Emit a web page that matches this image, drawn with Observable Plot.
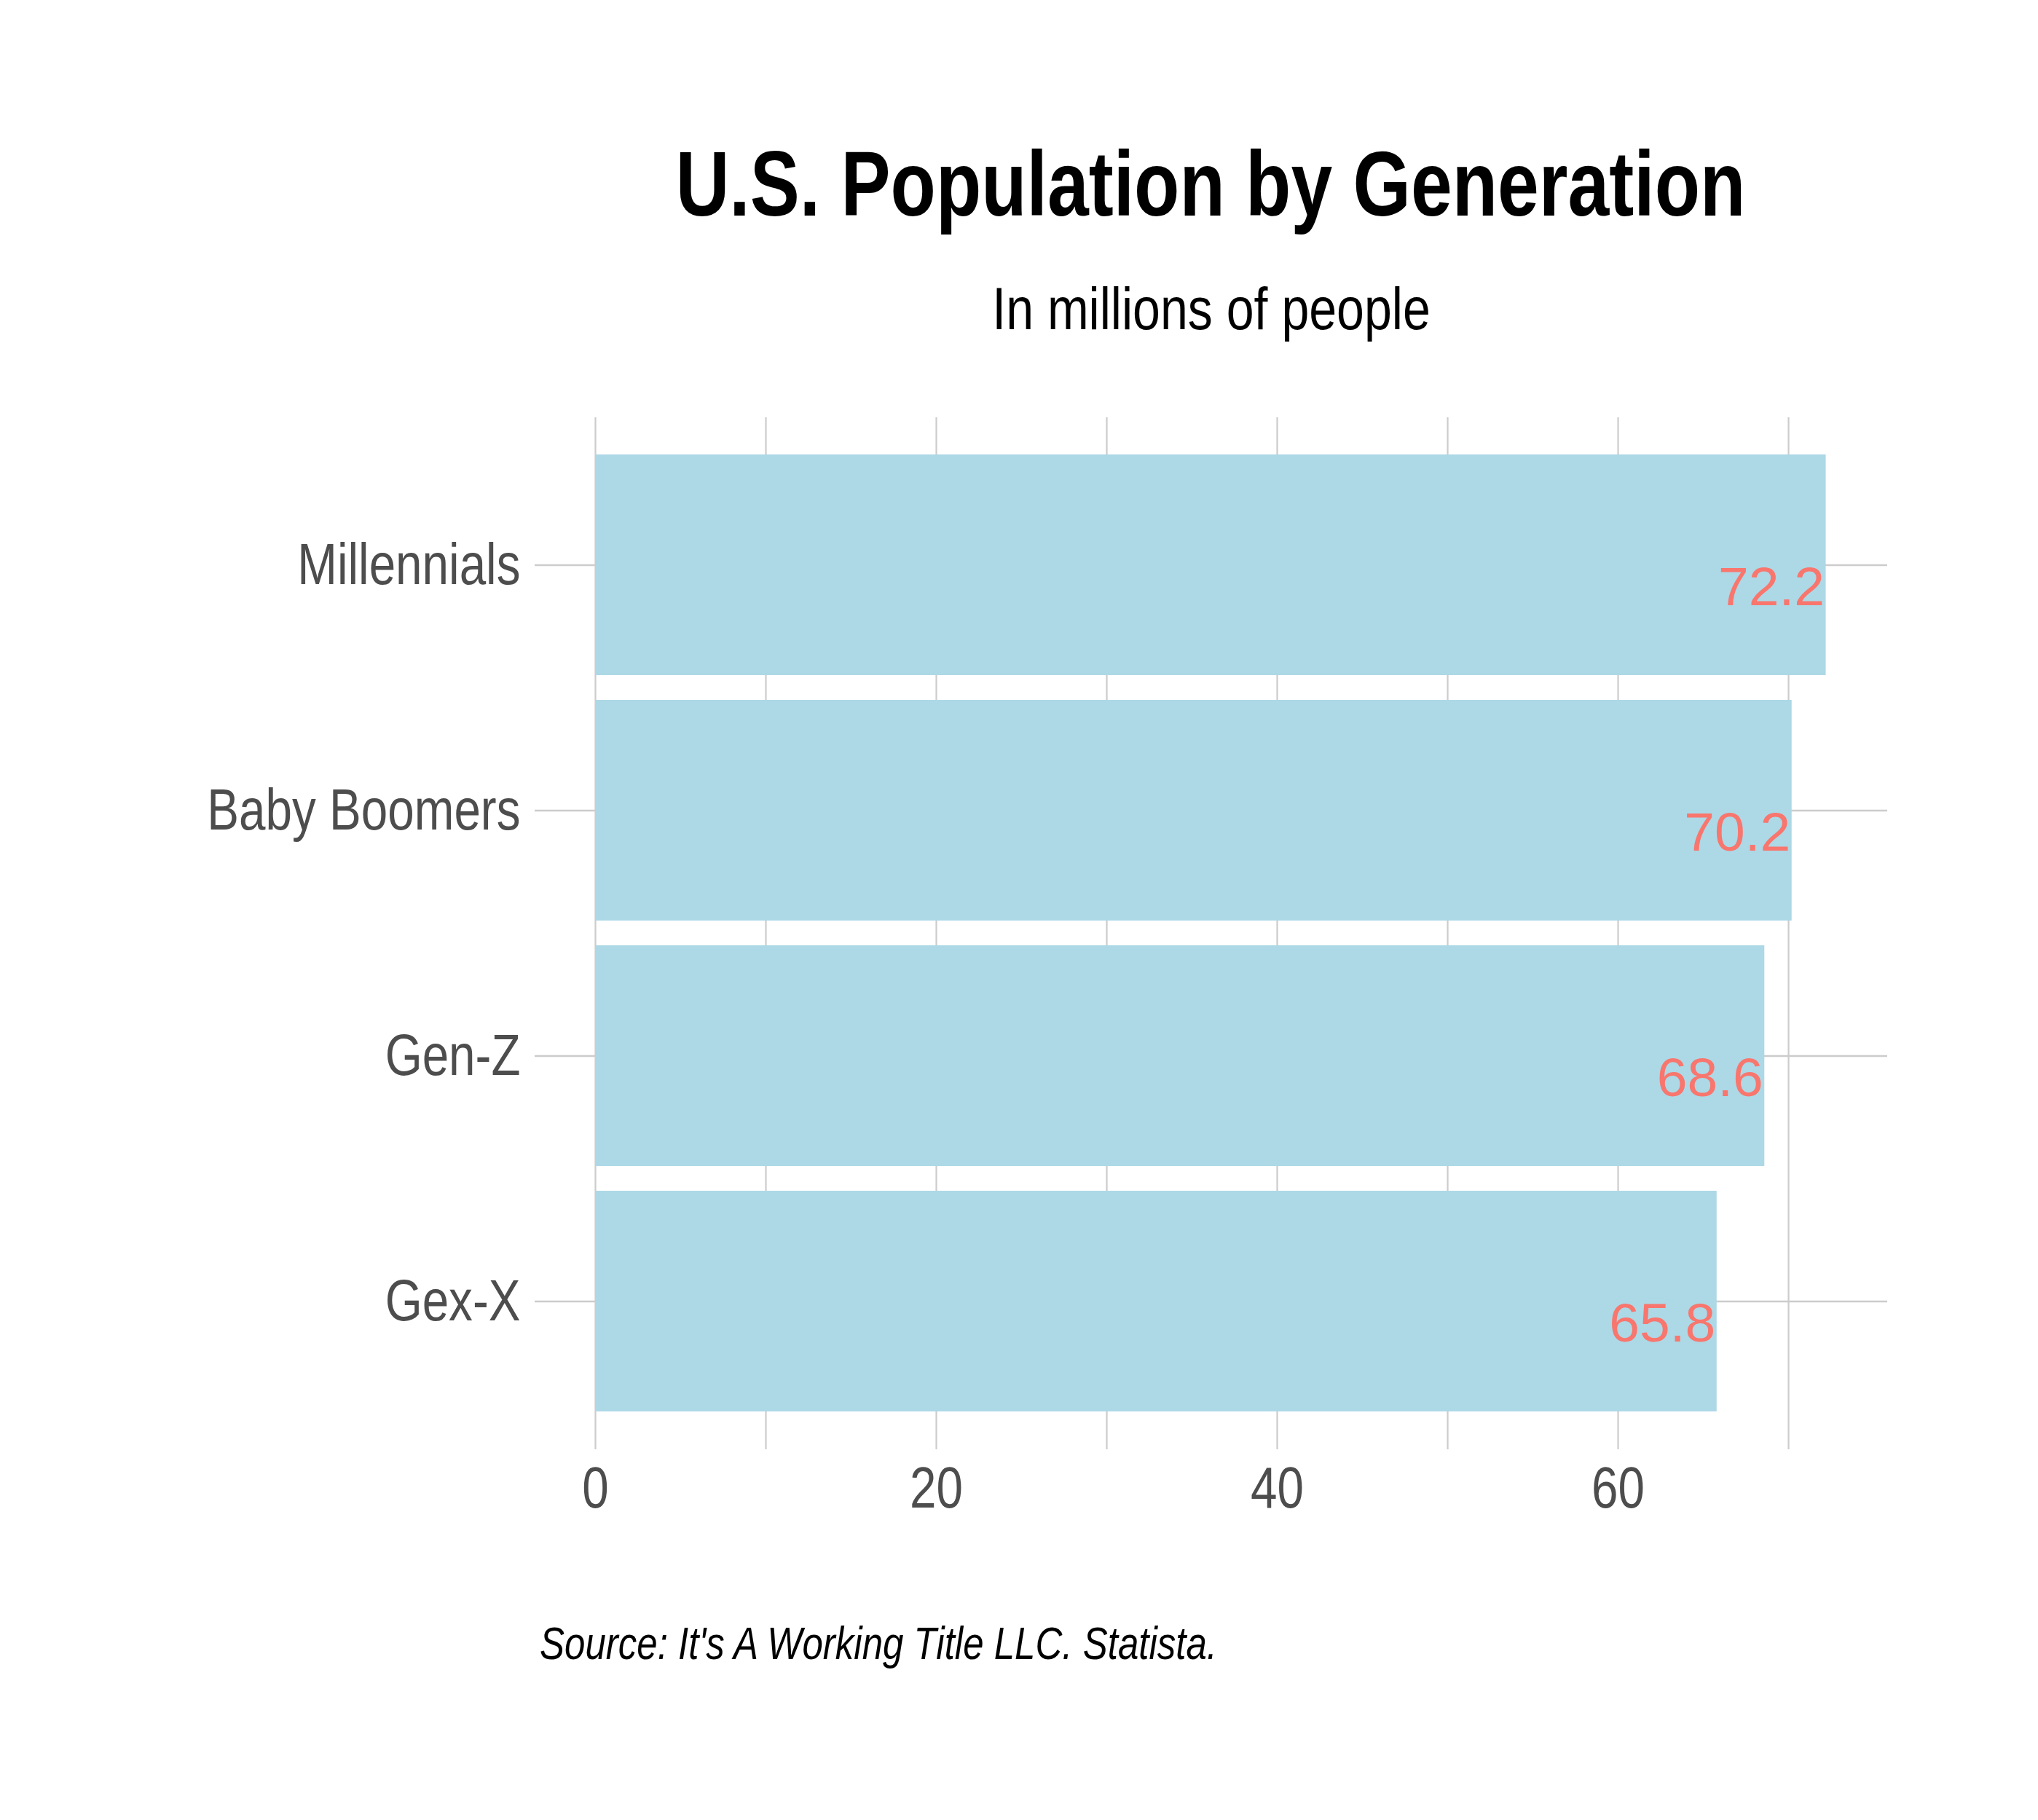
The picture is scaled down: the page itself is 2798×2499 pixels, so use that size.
<!DOCTYPE html>
<html>
<head>
<meta charset="utf-8">
<script src="https://cdn.jsdelivr.net/npm/d3@7"></script>
<script src="https://cdn.jsdelivr.net/npm/@observablehq/plot@0.6"></script>
<style>
  html, body { margin: 0; padding: 0; background: #fff; overflow: hidden; }
  #page { position: relative; width: 2798px; height: 2499px; background: #fff; }
  .narrow { font-family: "Liberation Sans Narrow", "Arial Narrow", "Liberation Sans", sans-serif; }
  #title { position: absolute; left: 1662px; top: 190px; transform: translateX(-50%) scaleX(0.81); white-space: nowrap;
           font-size: 126px; line-height: 126px; font-weight: bold; color: #000; }
  #subtitle { position: absolute; left: 1663px; top: 383px; transform: translateX(-50%) scaleX(0.83); white-space: nowrap;
              font-size: 82px; line-height: 82px; color: #000; }
  #caption { position: absolute; left: 741px; top: 2225px; white-space: nowrap; transform-origin: 0 50%; transform: scaleX(0.81);
             font-size: 63px; line-height: 63px; font-style: italic; color: #000; }
  #chart { position: absolute; left: 0; top: 500px; }
</style>
</head>
<body>
<div id="page">
  <div id="title" class="narrow">U.S. Population by Generation</div>
  <div id="subtitle" class="narrow">In millions of people</div>
  <div id="chart"></div>
  <div id="caption" class="narrow">Source: It's A Working Title LLC. Statista.</div>
</div>
<script>
const generations = ["Millennials", "Baby Boomers", "Gen-Z", "Gex-X"];
const population = [72.2, 70.2, 68.6, 65.8];
const xTicks = [0, 20, 40, 60];
const gridTicks = [0, 10, 20, 30, 40, 50, 60, 70];

const data = generations.map((g, i) => ({generation: g, value: population[i]}));
const xMax = d3.max(population) * 1.05;
const narrow = "'Liberation Sans Narrow', 'Arial Narrow', 'Liberation Sans', sans-serif";
const grid = "#cccccc";

const chart = Plot.plot({
  width: 2798,
  height: 1620,
  marginTop: 73,
  marginBottom: 130,
  marginLeft: 817,
  marginRight: 207,
  style: {background: "transparent", fontFamily: narrow},
  x: {domain: [0, xMax]},
  y: {domain: generations, paddingInner: 0.1, paddingOuter: 0.15},
  marks: [
    Plot.ruleX(gridTicks, {x: d => d, stroke: grid, strokeWidth: 2.2}),
    Plot.ruleY(generations, {y: d => d, x1: 0, x2: xMax, stroke: grid, strokeWidth: 2.7}),
    Plot.barX(data, {y: "generation", x: "value", fill: "#ADD8E6", inset: 0}),
    Plot.text(data, {
      y: "generation", x: "value", text: d => d.value.toFixed(1),
      textAnchor: "end", lineAnchor: "top", dx: -2, dy: 2,
      fill: "#F8766D", fontSize: 75, fontFamily: "'Liberation Sans', Arial, sans-serif"
    }),
    Plot.axisY({
      anchor: "left", tickSize: 83, tickPadding: 20, label: null,
      stroke: grid, strokeWidth: 2.7, fill: "#4d4d4d", fontSize: 80, fontFamily: narrow
    }),
    Plot.axisX({
      anchor: "bottom", ticks: xTicks, tickFormat: d3.format("d"), tickSize: 0, tickPadding: 23, label: null,
      fill: "#4d4d4d", fontSize: 80, fontFamily: narrow
    })
  ]
});

// Condense axis tick labels (no narrow font installed): scale horizontally about each anchor.
chart.querySelectorAll('g[aria-label="y-axis tick label"] text, g[aria-label="x-axis tick label"] text').forEach(t => {
  const x = +(t.getAttribute("x") || 0);
  const prev = t.getAttribute("transform") || "";
  t.setAttribute("transform", `${prev} translate(${x},0) scale(0.82,1) translate(${-x},0)`);
});

document.getElementById("chart").appendChild(chart);
</script>
</body>
</html>
